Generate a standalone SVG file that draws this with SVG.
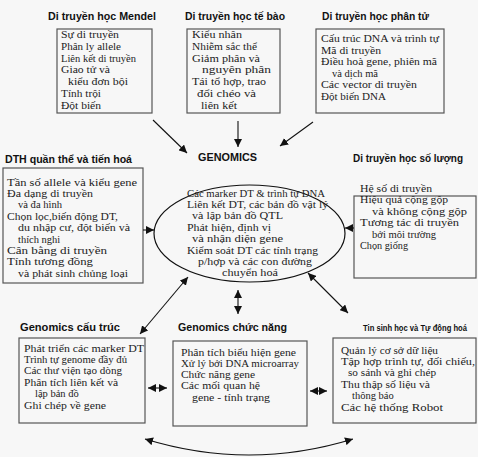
<svg xmlns="http://www.w3.org/2000/svg" width="478" height="457" viewBox="0 0 478 457">
<style>
.bg{fill:#f7f7f7}
.box{fill:none;stroke:#555;stroke-width:1.2}
.ttl{font-family:"Liberation Sans",Arial,sans-serif;font-weight:bold;font-size:10.5px;fill:#111}
.t{font-family:"Liberation Serif","Times New Roman",serif;font-size:10.5px;fill:#222}
.ln{fill:none;stroke:#111;stroke-width:1.1}
</style>
<defs>
<marker id="ah" viewBox="0 0 10 10" refX="10" refY="5" markerWidth="8" markerHeight="8" markerUnits="userSpaceOnUse" orient="auto-start-reverse">
<path d="M0,0 L10,5 L0,10 z" fill="#111"/>
</marker>
</defs>
<rect class="bg" x="0" y="0" width="478" height="457"/>

<g id="mendel">
<text class="ttl" x="48" y="20" textLength="108" lengthAdjust="spacingAndGlyphs">Di truyền học Mendel</text>
<rect class="box" x="57" y="29" width="95" height="84"/>
<text class="t" x="61" y="38" textLength="58" lengthAdjust="spacingAndGlyphs">Sự di truyền</text>
<text class="t" x="61" y="49.8" textLength="60" lengthAdjust="spacingAndGlyphs">Phân ly allele</text>
<text class="t" x="61" y="61.6" textLength="75" lengthAdjust="spacingAndGlyphs">Liên kết di truyền</text>
<text class="t" x="61" y="73.4" textLength="49" lengthAdjust="spacingAndGlyphs">Giao tử và</text>
<text class="t" x="68" y="85.2" textLength="60" lengthAdjust="spacingAndGlyphs">kiểu đơn bội</text>
<text class="t" x="61" y="97" textLength="40" lengthAdjust="spacingAndGlyphs">Tính trội</text>
<text class="t" x="61" y="108.8" textLength="40" lengthAdjust="spacingAndGlyphs">Đột biến</text>
</g>

<g id="tebao">
<text class="ttl" x="185" y="20" textLength="100" lengthAdjust="spacingAndGlyphs">Di truyền học tế bào</text>
<rect class="box" x="187" y="29" width="93" height="84"/>
<text class="t" x="192" y="38" textLength="50" lengthAdjust="spacingAndGlyphs">Kiểu nhân</text>
<text class="t" x="192" y="49.8" textLength="65" lengthAdjust="spacingAndGlyphs">Nhiễm sắc thể</text>
<text class="t" x="192" y="61.6" textLength="68" lengthAdjust="spacingAndGlyphs">Giảm phân và</text>
<text class="t" x="202" y="73.4" textLength="69" lengthAdjust="spacingAndGlyphs">nguyên phân</text>
<text class="t" x="192" y="85.2" textLength="74" lengthAdjust="spacingAndGlyphs">Tái tổ hợp, trao</text>
<text class="t" x="197" y="97" textLength="59" lengthAdjust="spacingAndGlyphs">đổi chéo và</text>
<text class="t" x="201" y="108.8" textLength="36" lengthAdjust="spacingAndGlyphs">liên kết</text>
</g>

<g id="phantu">
<text class="ttl" x="322" y="20" textLength="107" lengthAdjust="spacingAndGlyphs">Di truyền học phân tử</text>
<rect class="box" x="316" y="29" width="128" height="84"/>
<text class="t" x="321" y="42" textLength="118" lengthAdjust="spacingAndGlyphs">Cấu trúc DNA và trình tự</text>
<text class="t" x="321" y="53.5" textLength="60" lengthAdjust="spacingAndGlyphs">Mã di truyền</text>
<text class="t" x="321" y="65" textLength="116" lengthAdjust="spacingAndGlyphs">Điều hoà gene, phiên mã</text>
<text class="t" x="332" y="76.5" textLength="46" lengthAdjust="spacingAndGlyphs">và dịch mã</text>
<text class="t" x="321" y="88" textLength="96" lengthAdjust="spacingAndGlyphs">Các vector di truyền</text>
<text class="t" x="321" y="99.5" textLength="65" lengthAdjust="spacingAndGlyphs">Đột biến DNA</text>
</g>

<g id="quanthe">
<text class="ttl" x="5" y="163" textLength="127" lengthAdjust="spacingAndGlyphs">DTH quần thể và tiến hoá</text>
<rect class="box" x="3" y="168" width="140" height="115"/>
<text class="t" x="7" y="185.5" textLength="130" lengthAdjust="spacingAndGlyphs">Tần số allele và kiểu gene</text>
<text class="t" x="7" y="196.9" textLength="86" lengthAdjust="spacingAndGlyphs">Đa dạng di truyền</text>
<text class="t" x="18" y="208.3" textLength="44" lengthAdjust="spacingAndGlyphs">và đa hình</text>
<text class="t" x="7" y="219.7" textLength="111" lengthAdjust="spacingAndGlyphs">Chọn lọc,biến động DT,</text>
<text class="t" x="18" y="231.1" textLength="112" lengthAdjust="spacingAndGlyphs">du nhập cư, đột biến và</text>
<text class="t" x="18" y="242.5">thích nghi</text>
<text class="t" x="7" y="253.9" textLength="100" lengthAdjust="spacingAndGlyphs">Cân bằng di truyền</text>
<text class="t" x="7" y="265.3" textLength="86" lengthAdjust="spacingAndGlyphs">Tính tương đồng</text>
<text class="t" x="18" y="276.7" textLength="110" lengthAdjust="spacingAndGlyphs">và phát sinh chủng loại</text>
</g>

<g id="genomics">
<text class="ttl" x="198" y="161" textLength="59" lengthAdjust="spacingAndGlyphs">GENOMICS</text>
<ellipse class="box" cx="249.5" cy="233.5" rx="95.5" ry="48.5" style="stroke:#111"/>
<text class="t" x="187" y="196.5" textLength="138" lengthAdjust="spacingAndGlyphs">Các marker DT &amp; trình tự DNA</text>
<text class="t" x="187" y="207.9" textLength="141" lengthAdjust="spacingAndGlyphs">Liên kết DT, các bản đồ vật lý</text>
<text class="t" x="192" y="219.3" textLength="91" lengthAdjust="spacingAndGlyphs">và lập bản đồ QTL</text>
<text class="t" x="187" y="230.7" textLength="84" lengthAdjust="spacingAndGlyphs">Phát hiện, định vị</text>
<text class="t" x="192" y="242.1" textLength="91" lengthAdjust="spacingAndGlyphs">và nhận diện gene</text>
<text class="t" x="187" y="253.5" textLength="131" lengthAdjust="spacingAndGlyphs">Kiểm soát DT các tính trạng</text>
<text class="t" x="198" y="264.9" textLength="114" lengthAdjust="spacingAndGlyphs">p/hợp và các con đường</text>
<text class="t" x="222" y="276.3" textLength="56" lengthAdjust="spacingAndGlyphs">chuyển hoá</text>
</g>

<g id="soluong">
<text class="ttl" x="353" y="162" textLength="110" lengthAdjust="spacingAndGlyphs">Di truyền học số lượng</text>
<rect class="box" x="354" y="196" width="122" height="82"/>
<text class="t" x="360" y="191.5" textLength="72" lengthAdjust="spacingAndGlyphs">Hệ số di truyền</text>
<text class="t" x="360" y="203" textLength="88" lengthAdjust="spacingAndGlyphs">Hiệu quả cộng gộp</text>
<text class="t" x="372" y="214.5" textLength="95" lengthAdjust="spacingAndGlyphs">và không cộng gộp</text>
<text class="t" x="360" y="226" textLength="99" lengthAdjust="spacingAndGlyphs">Tương tác di truyền</text>
<text class="t" x="372" y="237.5" textLength="64" lengthAdjust="spacingAndGlyphs">bởi môi trường</text>
<text class="t" x="360" y="249" textLength="48" lengthAdjust="spacingAndGlyphs">Chọn giống</text>
</g>

<g id="cautruc">
<text class="ttl" x="20" y="331" textLength="100" lengthAdjust="spacingAndGlyphs">Genomics cấu trúc</text>
<rect class="box" x="19" y="338" width="126" height="85"/>
<text class="t" x="24" y="351.5" textLength="120" lengthAdjust="spacingAndGlyphs">Phát triển các marker DT</text>
<text class="t" x="24" y="362.9" textLength="103" lengthAdjust="spacingAndGlyphs">Trình tự genome đầy đủ</text>
<text class="t" x="24" y="374.3" textLength="98" lengthAdjust="spacingAndGlyphs">Các thư viện tạo dòng</text>
<text class="t" x="24" y="385.7" textLength="94" lengthAdjust="spacingAndGlyphs">Phân tích liên kết và</text>
<text class="t" x="35" y="397.1">lập bản đồ</text>
<text class="t" x="24" y="408.5" textLength="82" lengthAdjust="spacingAndGlyphs">Ghi chép về gene</text>
</g>

<g id="chucnang">
<text class="ttl" x="178" y="331" textLength="109" lengthAdjust="spacingAndGlyphs">Genomics chức năng</text>
<rect class="box" x="173" y="341" width="134" height="85"/>
<text class="t" x="181" y="355.5" textLength="115" lengthAdjust="spacingAndGlyphs">Phân tích biểu hiện gene</text>
<text class="t" x="181" y="366.8" textLength="118" lengthAdjust="spacingAndGlyphs">Xử lý bởi DNA microarray</text>
<text class="t" x="181" y="378.1" textLength="74" lengthAdjust="spacingAndGlyphs">Chức năng gene</text>
<text class="t" x="181" y="389.4" textLength="79" lengthAdjust="spacingAndGlyphs">Các mối quan hệ</text>
<text class="t" x="192" y="400.7" textLength="78" lengthAdjust="spacingAndGlyphs">gene - tính trạng</text>
</g>

<g id="tinsinh">
<text class="ttl" x="363" y="331" style="font-size:8.5px" textLength="104" lengthAdjust="spacingAndGlyphs">Tin sinh học và Tự động hoá</text>
<rect class="box" x="333" y="338" width="143" height="85"/>
<text class="t" x="341" y="353.5" textLength="97" lengthAdjust="spacingAndGlyphs">Quản lý cơ sở dữ liệu</text>
<text class="t" x="341" y="364.9" textLength="134" lengthAdjust="spacingAndGlyphs">Tập hợp trình tự, đối chiếu,</text>
<text class="t" x="348" y="376.3" textLength="88" lengthAdjust="spacingAndGlyphs">so sánh và ghi chép</text>
<text class="t" x="341" y="387.7" textLength="89" lengthAdjust="spacingAndGlyphs">Thu thập số liệu và</text>
<text class="t" x="352" y="399.1">thông báo</text>
<text class="t" x="341" y="410.5" textLength="102" lengthAdjust="spacingAndGlyphs">Các hệ thống Robot</text>
</g>

<g id="connectors">
<line class="ln" x1="153" y1="120" x2="187" y2="153" marker-end="url(#ah)"/>
<line class="ln" x1="238" y1="121" x2="238" y2="147" marker-end="url(#ah)"/>
<line class="ln" x1="313" y1="122" x2="280" y2="146" marker-end="url(#ah)"/>
<line class="ln" x1="143" y1="230" x2="154" y2="230" marker-end="url(#ah)"/>
<line class="ln" x1="354" y1="228" x2="345" y2="228" marker-end="url(#ah)"/>
<line class="ln" x1="188" y1="277" x2="140" y2="334" marker-start="url(#ah)" marker-end="url(#ah)"/>
<line class="ln" x1="238" y1="290" x2="238" y2="314" marker-start="url(#ah)" marker-end="url(#ah)"/>
<line class="ln" x1="308" y1="273" x2="348" y2="313" marker-start="url(#ah)" marker-end="url(#ah)"/>
<line class="ln" x1="148" y1="388" x2="167" y2="388" marker-start="url(#ah)" marker-end="url(#ah)"/>
<line class="ln" x1="310" y1="391" x2="327" y2="391" marker-start="url(#ah)" marker-end="url(#ah)"/>
<path class="ln" d="M145,439 Q249,471 353,439" marker-start="url(#ah)" marker-end="url(#ah)"/>
</g>
</svg>
